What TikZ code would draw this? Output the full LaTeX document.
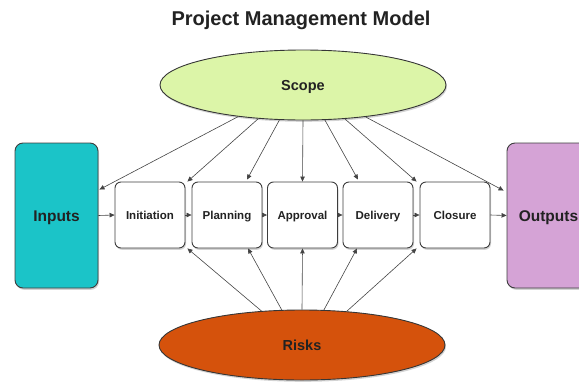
\documentclass[tikz,border=0pt]{standalone}
\usepackage{fontspec}
\setmainfont{Liberation Sans}
\usetikzlibrary{shapes.geometric,arrows.meta,shadows}
\definecolor{scopeC}{HTML}{DCF5A8}
\definecolor{riskC}{HTML}{D5520C}
\definecolor{inC}{HTML}{1BC4C8}
\definecolor{outC}{HTML}{D5A3D6}
\definecolor{lineC}{HTML}{444444}
\definecolor{txtC}{HTML}{222222}
\tikzset{
  shadowed/.style={drop shadow={opacity=0.35,shadow xshift=1pt,shadow yshift=-1.8pt}},
  stagebox/.style={draw=lineC!90!black,line width=0.9pt,fill=white,rounded corners=6pt,
    minimum width=70pt,minimum height=66pt,inner sep=0pt,shadowed,
    text height=8.5pt,text depth=0pt,
    font=\bfseries\fontsize{11.5}{12}\selectfont,text=txtC},
  sidebox/.style={draw=lineC!90!black,line width=0.9pt,rounded corners=8pt,
    minimum width=83pt,minimum height=145pt,inner sep=0pt,shadowed,
    text height=11.5pt,text depth=0pt,
    font=\bfseries\fontsize{15.5}{17}\selectfont,text=txtC},
  oval/.style={ellipse,draw=lineC!80!black,line width=0.9pt,minimum width=286pt,
    minimum height=70pt,inner sep=0pt,shadowed,
    text height=10.5pt,text depth=0pt,
    font=\bfseries\fontsize{14.5}{16}\selectfont,text=txtC},
  arr/.style={draw=lineC,line width=0.6pt,-{Triangle[length=5pt,width=4.5pt]}}
}
\begin{document}
\begin{tikzpicture}[x=1pt,y=-1pt]
\useasboundingbox (0,0) rectangle (579,381);
\clip (0,0) rectangle (579,381);
\node[font=\bfseries\fontsize{20}{22}\selectfont,text=txtC] (title) at (301,20) {Project Management Model};
\node[oval,fill=scopeC] (scope) at (303,85) {Scope};
\node[oval,fill=riskC] (risks) at (302,345) {Risks};
\node[sidebox,fill=inC] (inputs) at (56.5,215.5) {Inputs};
\node[sidebox,fill=outC] (outputs) at (548.5,215.5) {Outputs};
\node[stagebox] (init) at (150,215) {Initiation};
\node[stagebox] (plan) at (227,215) {Planning};
\node[stagebox] (appr) at (302.5,215) {Approval};
\node[stagebox] (deliv) at (378,215) {Delivery};
\node[stagebox] (clos) at (455,215) {Closure};
% flow
\draw[arr] (inputs.east) -- (init.west);
\draw[arr] (init.east) -- (plan.west);
\draw[arr] (plan.east) -- (appr.west);
\draw[arr] (appr.east) -- (deliv.west);
\draw[arr] (deliv.east) -- (clos.west);
\draw[arr] (clos.east) -- (outputs.west);
% scope arrows
\draw[arr] (scope.206.5) -- ([yshift=-47pt,xshift=1pt]inputs.north east);
\draw[arr] (scope.217.8) -- ([xshift=2pt]init.north east);
\draw[arr] (scope.236.3) -- ([xshift=20pt,yshift=2pt]plan.north);
\draw[arr] (scope.270) -- (appr.north);
\draw[arr] (scope.302.5) -- ([xshift=-20pt,yshift=2pt]deliv.north);
\draw[arr] (scope.321.5) -- ([xshift=-3pt]clos.north west);
\draw[arr] (scope.333.1) -- ([yshift=-48pt,xshift=-3pt]outputs.north west);
% risk arrows
\draw[arr] (risks.140) -- ([xshift=2pt]init.south east);
\draw[arr] (risks.120) -- ([xshift=21pt]plan.south);
\draw[arr] (risks.90) -- (appr.south);
\draw[arr] (risks.58.7) -- ([xshift=-21pt]deliv.south);
\draw[arr] (risks.37.8) -- ([xshift=-3pt]clos.south west);
\end{tikzpicture}
\end{document}
